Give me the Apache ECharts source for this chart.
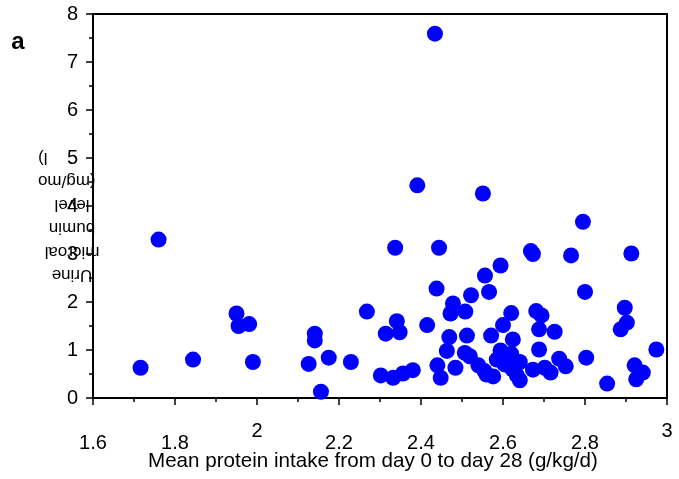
<!DOCTYPE html>
<html>
<head>
<meta charset="utf-8">
<script src="https://cdn.jsdelivr.net/npm/echarts@6/dist/echarts.min.js"></script>
<style>
html,body{margin:0;padding:0;background:#fff;}
#chart{width:679px;height:479px;}
</style>
</head>
<body>
<div id="chart"></div>
<script>
// Mean protein intake (g/kg/d), day 0 to day 28
var protein = [
  1.716, 1.760, 1.844, 1.950, 1.955, 1.981, 1.990,
  2.126, 2.141, 2.141, 2.156, 2.175, 2.229, 2.268,
  2.302, 2.314, 2.332, 2.337, 2.341, 2.348, 2.356, 2.380, 2.391, 2.415,
  2.434, 2.438, 2.440, 2.444, 2.448, 2.463, 2.469, 2.472, 2.478, 2.484,
  2.507, 2.508, 2.512, 2.519, 2.522, 2.540, 2.551, 2.555, 2.556, 2.560, 2.566, 2.571, 2.576,
  2.585, 2.594, 2.594, 2.600, 2.604, 2.620, 2.620, 2.624, 2.624, 2.634, 2.641, 2.641,
  2.668, 2.673, 2.673, 2.681, 2.688, 2.688, 2.694, 2.702, 2.716, 2.726, 2.737, 2.753, 2.766,
  2.795, 2.800, 2.803, 2.854, 2.887, 2.897, 2.902, 2.913, 2.921, 2.925, 2.941, 2.974
];
// Urine microalbumin level (mg/mol)
var albumin = [
  0.63, 3.30, 0.80, 1.76, 1.50, 1.54, 0.75,
  0.71, 1.34, 1.20, 0.13, 0.84, 0.75, 1.80,
  0.47, 1.34, 0.42, 3.13, 1.60, 1.37, 0.51, 0.58, 4.43, 1.52,
  7.59, 2.28, 0.68, 3.13, 0.42, 0.98, 1.27, 1.76, 1.97, 0.63,
  0.94, 1.80, 1.30, 0.87, 2.14, 0.68, 4.26, 0.56, 2.55, 0.49, 2.21, 1.30, 0.45,
  0.80, 2.76, 0.99, 1.52, 0.70, 1.77, 0.92, 1.22, 0.59, 0.47, 0.75, 0.37,
  3.06, 3.00, 0.59, 1.81, 1.43, 1.01, 1.72, 0.63, 0.53, 1.38, 0.82, 0.66, 2.97,
  3.67, 2.21, 0.84, 0.30, 1.43, 1.88, 1.57, 3.01, 0.68, 0.39, 0.53, 1.01
];
var xTickLabels = ['1.6', '1.8', '2', '2.2', '2.4', '2.6', '2.8', '3'];
var yTickLabels = ['0', '1', '2', '3', '4', '5', '6', '7', '8'];
var xTitle = 'Mean protein intake from day 0 to day 28 (g/kg/d)';
var yTitleLines = ['Urine', 'microal', 'bumin', 'level', '(mg/mo', 'l)'];
var panelLabel = 'a';

var FONT = '"Liberation Sans", Arial, sans-serif';
var points = protein.map(function (x, i) { return [x, albumin[i]]; });

function xLabel(v) {
  var idx = Math.round((v - 1.6) / 0.2);
  return xTickLabels[idx] || '';
}
function isInt(v) { return Math.abs(v - Math.round(v)) < 1e-6; }

// layout of the upside-down y title (one text element per line)
var yTitleGraphics = yTitleLines.map(function (line, i) {
  var leftAligned = i >= 4; // "(mg/mo" and "l)" hug the left side on screen
  return {
    type: 'text',
    x: leftAligned ? 38 : 72,
    y: 275 - i * 23.5,
    rotation: Math.PI,
    style: {
      text: line, fontSize: 17, fontFamily: FONT, fill: '#000',
      align: leftAligned ? 'right' : 'center', verticalAlign: 'middle'
    }
  };
});

var chart = echarts.init(document.getElementById('chart'), null, {renderer: 'canvas'});
var baseX = {type: 'value', min: 1.6, max: 3, interval: 0.2, gridIndex: 0, splitLine: {show: false}};
chart.setOption({
  animation: false,
  backgroundColor: '#ffffff',
  grid: {left: 93, right: 12, top: 14, bottom: 81, containLabel: false},
  xAxis: [
    Object.assign({}, baseX, {
      position: 'bottom',
      axisLine: {show: true, onZero: false, lineStyle: {color: '#000', width: 2}},
      axisTick: {show: true, length: 7, lineStyle: {color: '#000', width: 1.5}},
      minorTick: {show: true, splitNumber: 2, length: 4, lineStyle: {color: '#000', width: 1.5}},
      axisLabel: {
        show: true, margin: 35, fontSize: 20, color: '#000', fontFamily: FONT,
        formatter: function (v) { return isInt(v) ? '' : xLabel(v); }
      }
    }),
    Object.assign({}, baseX, {
      position: 'bottom',
      axisLine: {show: false},
      axisTick: {show: false},
      axisLabel: {
        show: true, margin: 23, fontSize: 20, color: '#000', fontFamily: FONT,
        formatter: function (v) { return isInt(v) ? xLabel(v) : ''; }
      }
    }),
    Object.assign({}, baseX, {
      position: 'top',
      axisLine: {show: true, onZero: false, lineStyle: {color: '#000', width: 2}},
      axisTick: {show: false},
      axisLabel: {show: false}
    })
  ],
  yAxis: [
    {
      type: 'value', min: 0, max: 8, interval: 1, position: 'left',
      splitLine: {show: false},
      axisLine: {show: true, onZero: false, lineStyle: {color: '#000', width: 2}},
      axisTick: {show: true, length: 7, lineStyle: {color: '#000', width: 1.5}},
      minorTick: {show: true, splitNumber: 2, length: 4, lineStyle: {color: '#000', width: 1.5}},
      axisLabel: {
        margin: 15, fontSize: 20, color: '#000', fontFamily: FONT,
        formatter: function (v) { return yTickLabels[Math.round(v)] || ''; }
      }
    },
    {
      type: 'value', min: 0, max: 8, interval: 1, position: 'right',
      splitLine: {show: false},
      axisLine: {show: true, onZero: false, lineStyle: {color: '#000', width: 2}},
      axisTick: {show: false},
      axisLabel: {show: false}
    }
  ],
  series: [{
    type: 'scatter',
    xAxisIndex: 0,
    yAxisIndex: 0,
    data: points,
    symbol: 'circle',
    symbolSize: 16,
    itemStyle: {color: '#0000ff', opacity: 1},
    emphasis: {disabled: true},
    silent: true
  }],
  graphic: [
    {
      type: 'text', left: 148, top: 451,
      style: {text: xTitle, fontSize: 20.6, fontFamily: FONT, fill: '#000'}
    },
    {
      type: 'text', x: 18, y: 42,
      style: {
        text: panelLabel, fontSize: 24, fontWeight: 'bold', fontFamily: FONT,
        fill: '#000', align: 'center', verticalAlign: 'middle'
      }
    }
  ].concat(yTitleGraphics)
});
</script>
</body>
</html>
